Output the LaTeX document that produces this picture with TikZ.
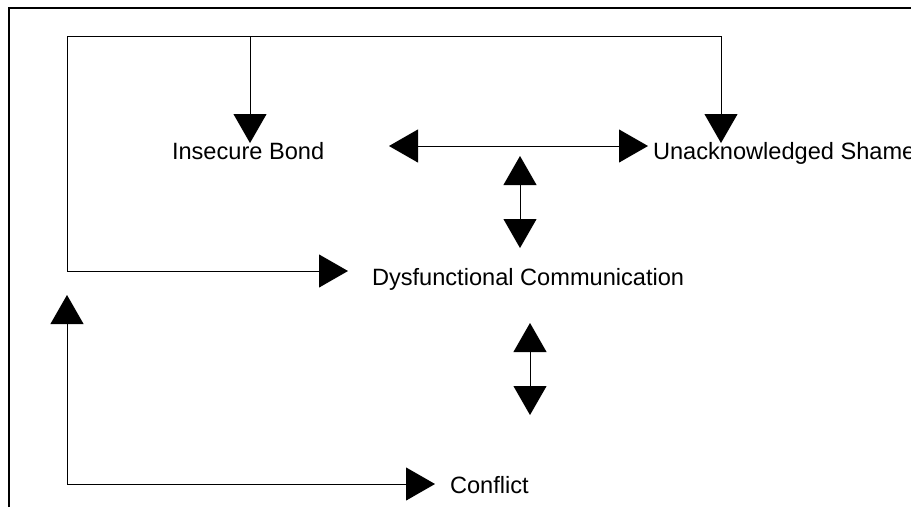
\documentclass[tikz,border=0pt]{standalone}
\usepackage{fontspec}
\setmainfont{Liberation Sans}
\usetikzlibrary{arrows.meta}
\begin{document}
\begin{tikzpicture}[x=1pt,y=-1pt,
  >={Triangle[length=29pt,width=33pt]},
  conn/.style={draw=black,line width=0.9pt},
  frameline/.style={draw=black,line width=2pt},
  lbl/.style={anchor=base west,inner sep=0pt,outer sep=0pt,font=\fontsize{23.6}{28}\selectfont}]
\useasboundingbox (0,0) rectangle (911,507);
% frame
\coordinate (fb) at (9,507);
\coordinate (fc) at (9,8);
\coordinate (fr) at (911,8);
\draw[frameline] (fb) -- (fc) -- (fr);
% labels
\node[lbl] (ib) at (172,159) {Insecure Bond};
\node[lbl] (us) at (653,159) {Unacknowledged Shame};
\node[lbl] (dc) at (372,285) {Dysfunctional Communication};
\node[lbl] (cf) at (450,493) {Conflict};
% coordinates
\coordinate (tl) at (67,36);
\coordinate (tb) at (250,36);
\coordinate (tr) at (721,36);
\coordinate (ml) at (67,271);
\coordinate (bl) at (67,484);
\coordinate (ibTip) at (250,143);
\coordinate (usTip) at (721,143);
\coordinate (hL) at (389,146);
\coordinate (hR) at (648,146);
\coordinate (v1a) at (520,156);
\coordinate (v1b) at (520,248);
\coordinate (dcTip) at (348,271);
\coordinate (v2a) at (530,323);
\coordinate (v2b) at (530,415);
\coordinate (upTip) at (67,295);
\coordinate (cfTip) at (435,484);
% connectors
\draw[conn] (ml) -- (tl) -- (tr);
\draw[conn,->] (tb) -- (ibTip);
\draw[conn,->] (tr) -- (usTip);
\draw[conn,<->] (hL) -- (hR);
\draw[conn,<->] (v1a) -- (v1b);
\draw[conn,->] (ml) -- (dcTip);
\draw[conn,<->] (v2a) -- (v2b);
\draw[conn,->] (bl) -- (upTip);
\draw[conn,->] (bl) -- (cfTip);
\end{tikzpicture}
\end{document}
